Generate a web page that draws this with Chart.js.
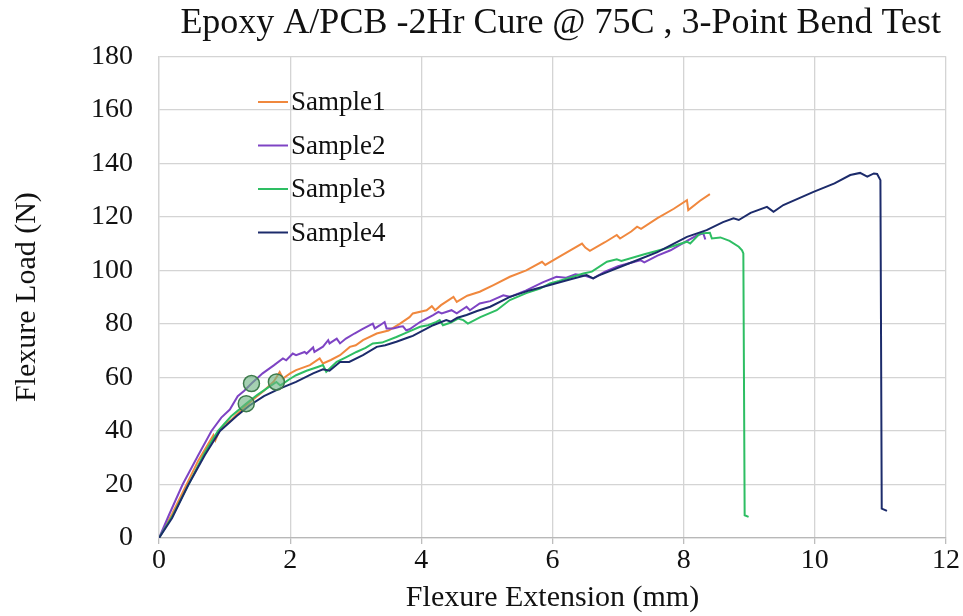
<!DOCTYPE html>
<html>
<head>
<meta charset="utf-8">
<script src="https://cdn.jsdelivr.net/npm/chart.js@4.4.1/dist/chart.umd.min.js"></script>
<style>
  html, body { margin: 0; padding: 0; background: #ffffff; }
  #wrap { width: 963px; height: 616px; }
</style>
</head>
<body>
<div id="wrap"><canvas id="c" width="963" height="616"></canvas></div>
<script>
// ---- Data ----
const seriesNames = ["Sample1", "Sample2", "Sample3", "Sample4"];
const xTicks = [0, 2, 4, 6, 8, 10, 12];
const yTicks = [0, 20, 40, 60, 80, 100, 120, 140, 160, 180];

const s1X = [0,0.2,0.4,0.6,0.83,0.86,0.92,1.0,1.1,1.2,1.33,1.45,1.6,1.75,1.84,1.89,2.0,2.09,2.3,2.45,2.5,2.62,2.76,2.91,3.0,3.11,3.32,3.5,3.67,3.82,3.87,4.08,4.16,4.21,4.3,4.49,4.54,4.7,4.89,5.1,5.35,5.6,5.84,5.89,6.1,6.45,6.5,6.57,6.8,6.98,7.03,7.2,7.29,7.35,7.6,7.85,8.05,8.07,8.25,8.40];
const s1Y = [0,9,19,29,38.5,36.5,40,42.5,44,46.5,49.5,52,55,58.5,62,59.6,61.5,62.7,64.6,67.1,65.2,66.5,68.3,71.4,72,73.9,76.4,77.5,80,82.5,83.9,85.1,86.6,85.1,87,90.1,88.2,90.5,92,94.5,97.6,100,103.2,102,105,110,108.5,107.3,110.5,113.2,111.9,114.5,116.3,115.5,119.5,123,126.2,122.5,126,128.5];

const s2X = [0,0.15,0.36,0.6,0.8,0.95,1.08,1.2,1.3,1.41,1.58,1.75,1.89,1.94,2.04,2.09,2.22,2.25,2.35,2.37,2.5,2.58,2.6,2.71,2.76,2.85,2.98,3.1,3.26,3.29,3.37,3.44,3.47,3.57,3.67,3.72,3.77,3.82,3.98,4.18,4.26,4.31,4.46,4.54,4.69,4.74,4.89,5.05,5.25,5.35,5.6,5.85,6.06,6.2,6.35,6.5,6.62,6.8,7.0,7.34,7.4,7.6,7.8,8.05,8.2,8.30,8.33];
const s2Y = [0,8.5,20,31,40,45,48,53,55,57.7,61.5,64.5,67.1,66.4,68.9,68.3,69.5,68.9,71.2,69.5,71.5,73.9,72.7,74.5,72.7,74.5,76.4,78,80.1,78.3,79.5,80.7,78.3,78.3,78.9,79.1,77.6,78,80.7,83.3,84.5,83.9,85.1,83.9,86.4,85.1,87.6,88.5,90.7,90.1,92.5,95.5,97.6,97.2,98.5,98,97,99.5,101.5,103.8,103,105.5,107.5,111,113,113.8,111.5];

const s3X = [0,0.2,0.45,0.7,0.9,1.1,1.33,1.5,1.65,1.79,1.85,2.0,2.09,2.25,2.42,2.5,2.55,2.71,2.85,3.01,3.15,3.26,3.4,3.62,3.8,3.98,4.1,4.23,4.28,4.33,4.45,4.56,4.64,4.71,4.9,5.15,5.35,5.6,5.81,5.96,6.1,6.3,6.47,6.6,6.83,6.98,7.05,7.4,7.7,8.05,8.1,8.25,8.40,8.43,8.56,8.7,8.84,8.89,8.91,8.93,8.99];
const s3Y = [0,8,20,32,40,45.5,50.2,53.5,56,58.3,57,59.5,60.8,62.5,63.9,64.6,62.1,65.8,67.5,69.5,71,72.7,73,75.1,77,78.9,79.5,80.7,81.4,79.5,80.5,82,81.4,80.1,82.5,85.1,88.9,91.5,93.2,95.1,96,97.5,98.8,99.5,103.2,104.1,103.5,106,108,110.7,110,113.8,114,111.9,112.3,111,108.8,107.5,106.3,8.5,7.9];

const s4X = [0,0.2,0.44,0.7,0.93,1.18,1.38,1.6,1.84,2.09,2.35,2.5,2.6,2.76,2.9,3.11,3.32,3.45,3.62,3.82,3.87,4.18,4.38,4.45,4.55,4.69,4.85,5.05,5.35,5.65,5.96,6.25,6.52,6.62,6.7,7.23,7.6,8.05,8.35,8.6,8.76,8.84,9.02,9.27,9.37,9.52,9.98,10.3,10.54,10.69,10.80,10.90,10.95,11.0,11.02,11.1];
const s4Y = [0,7.5,19.5,31,40,45.5,49.5,53,55.8,58.3,61.5,63,62.5,65.8,65.8,68.3,71.4,72,73.3,75.1,75.5,79.5,81.4,80.8,82.3,83.3,84.8,86.4,90.1,92.5,94.5,96.5,98.2,97,98,103.2,106.8,112.5,115,118,119.4,118.8,121.5,123.7,121.9,124.4,129.3,132.5,135.6,136.4,135,136.2,136,133.7,11,10.1];

// circled points
const markX = [1.41, 1.33, 1.79];
const markY = [57.7, 50.2, 58.3];

const seriesColors = ["#F0883E", "#7E44C4", "#2EBE63", "#1C2B6B"];

// ---- Build ----
function pts(xs, ys) { return xs.map((x, i) => ({ x: x, y: ys[i] })); }
const seriesX = [s1X, s2X, s3X, s4X];
const seriesY = [s1Y, s2Y, s3Y, s4Y];

const datasets = seriesNames.map((name, i) => ({
  label: name,
  data: pts(seriesX[i], seriesY[i]),
  showLine: true,
  borderColor: seriesColors[i],
  backgroundColor: seriesColors[i],
  borderWidth: 2,
  pointRadius: 0,
  tension: 0,
  order: 4 - i
}));
datasets.push({
  label: "_marks",
  data: pts(markX, markY),
  showLine: false,
  pointRadius: 8,
  pointBackgroundColor: "rgba(110,180,130,0.62)",
  pointBorderColor: "#3d7a4c",
  pointBorderWidth: 1.5,
  order: 0
});

const SERIF = "'Liberation Serif', 'Times New Roman', serif";

const legendPlugin = {
  id: "insideLegend",
  afterLayout(chart) {
    if (chart.titleBlock) { chart.titleBlock.right = 941; }
  },
  afterDraw(chart) {
    const ctx = chart.ctx;
    ctx.save();
    ctx.font = "27px " + SERIF;
    ctx.textBaseline = "middle";
    ctx.textAlign = "left";
    const y0 = 102, dy = 43.5;
    seriesNames.forEach((name, i) => {
      const y = y0 + i * dy;
      ctx.strokeStyle = seriesColors[i];
      ctx.lineWidth = 2;
      ctx.beginPath();
      ctx.moveTo(258, y);
      ctx.lineTo(288, y);
      ctx.stroke();
      ctx.fillStyle = "#111111";
      ctx.fillText(name, 291, y + 1);
    });
    ctx.restore();
  }
};

new Chart(document.getElementById("c"), {
  type: "scatter",
  data: { datasets: datasets },
  plugins: [legendPlugin],
  options: {
    responsive: false,
    animation: false,
    devicePixelRatio: 1,
    layout: { padding: { left: 0, right: 17, top: 0, bottom: 0 } },
    plugins: {
      legend: { display: false },
      tooltip: { enabled: false },
      title: {
        display: true,
        text: "Epoxy A/PCB -2Hr Cure @ 75C , 3-Point Bend Test",
        align: "end",
        color: "#111111",
        font: { family: SERIF, size: 36, weight: "normal", lineHeight: 1.2 },
        padding: { top: 2, bottom: 11 }
      }
    },
    scales: {
      x: {
        type: "linear",
        min: 0, max: 12,
        afterBuildTicks(scale) { scale.ticks = xTicks.map(v => ({ value: v })); },
        afterFit(scale) { scale.height = 78; },
        grid: { color: "#d4d4d4", lineWidth: 1.3, tickLength: 6, tickColor: "#bdbdbd" },
        border: { display: true, color: "#b8b8b8", width: 1.3 },
        ticks: { color: "#111111", padding: 0, font: { family: SERIF, size: 28, lineHeight: 1.2 } },
        title: {
          display: true,
          text: "Flexure Extension (mm)",
          color: "#111111",
          font: { family: SERIF, size: 30, lineHeight: 1.2 },
          padding: { top: 0, bottom: 0 }
        }
      },
      y: {
        type: "linear",
        min: 0, max: 180,
        afterBuildTicks(scale) { scale.ticks = yTicks.map(v => ({ value: v })); },
        afterFit(scale) { scale.width = 159; },
        grid: { color: "#d4d4d4", lineWidth: 1.3, drawTicks: false },
        border: { display: true, color: "#d4d4d4", width: 1.3 },
        ticks: { color: "#111111", padding: 26, font: { family: SERIF, size: 28, lineHeight: 1.2 } },
        title: {
          display: true,
          text: "Flexure Load (N)",
          color: "#111111",
          font: { family: SERIF, size: 30, lineHeight: 1.2 },
          padding: { top: 9, bottom: 0 }
        }
      }
    }
  }
});
</script>
</body>
</html>
